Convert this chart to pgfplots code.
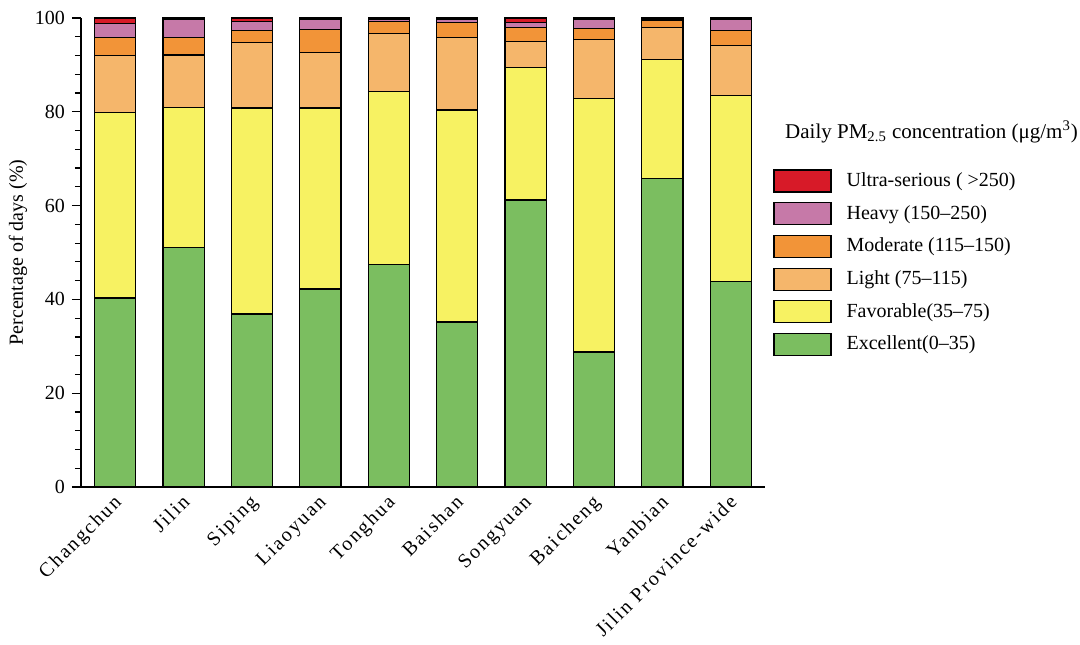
\documentclass[border=0pt]{standalone}
\usepackage{pgfplots}
\usepackage{pgfplotstable}
\pgfplotsset{compat=1.18}
\usepackage{fontspec}
\setmainfont{Liberation Serif}
\newfontfamily\spaced[LetterSpace=10]{Liberation Serif}
\definecolor{cEx}{HTML}{7BBE60}
\definecolor{cFav}{HTML}{F7F262}
\definecolor{cLight}{HTML}{F5B66B}
\definecolor{cMod}{HTML}{F29438}
\definecolor{cHeavy}{HTML}{C679A8}
\definecolor{cUltra}{HTML}{D71A28}
\pgfplotstableread{
x ex fav light mod heavy ultra
0 40.3 39.5 12.2 3.9 3.0 1.1
1 51.0 30.0 11.1 3.8 3.7 0.4
2 36.9 43.9 14.0 2.5 1.9 0.8
3 42.2 38.6 11.8 4.9 2.3 0.2
4 47.5 36.9 12.3 2.5 0.5 0.3
5 35.2 45.2 15.5 3.1 0.7 0.3
6 61.2 28.2 5.6 2.9 1.2 0.9
7 28.8 54.1 12.6 2.3 1.9 0.3
8 65.7 25.5 6.7 1.5 0.4 0.2
9 43.9 39.5 10.8 3.2 2.2 0.4
}\data
\begin{document}
\begin{tikzpicture}
\begin{axis}[
  at={(0,0)}, anchor=south west,
  scale only axis, width=342pt, height=234.5pt,
  clip=false,
  ybar stacked, bar width=0.6,
  xmin=-0.5, xmax=9.5, ymin=0, ymax=100,
  axis lines*=left,
  axis line style={line width=0.8pt},
  xtick=data,
  xticklabels={Changchun,Jilin,Siping,Liaoyuan,Tonghua,Baishan,Songyuan,Baicheng,Yanbian,Jilin Province-wide},
  x tick label style={rotate=45, anchor=north east, font=\spaced\fontsize{10}{12}\selectfont, inner sep=1pt, xshift=1pt, yshift=3pt},
  major x tick style={draw=none},
  ytick={0,20,40,60,80,100},
  minor y tick num=4,
  tick align=outside,
  major tick length=4.5pt, minor tick length=3pt,
  y tick style={line width=0.6pt, black},
  y tick label style={font=\fontsize{10}{12}\selectfont},
  /pgf/number format/assume math mode=true,
  ylabel={Percentage of days (\%)},
  ylabel style={font=\fontsize{10}{12}\selectfont, yshift=-3pt},
  every axis plot/.append style={draw=black, line width=0.6pt},
  reverse legend,
  legend image code/.code={\draw[#1] (0pt,-5.5pt) rectangle (28.5pt,5.5pt);},
  legend cell align=left,
  legend style={at={(rel axis cs:1.0117,0.678)}, anchor=north west, draw=none, fill=none,
    inner sep=0pt, row sep=4.75pt, nodes={inner sep=0pt, font=\fontsize{10}{12}\selectfont},
    /tikz/every odd column/.style={column sep=7.5pt}},
]
\addplot[fill=cEx] table[x=x,y=ex]{\data};
\addplot[fill=cFav] table[x=x,y=fav]{\data};
\addplot[fill=cLight] table[x=x,y=light]{\data};
\addplot[fill=cMod] table[x=x,y=mod]{\data};
\addplot[fill=cHeavy] table[x=x,y=heavy]{\data};
\addplot[fill=cUltra] table[x=x,y=ultra]{\data};
\legend{Excellent(0--35),Favorable(35--75),Light (75--115),Moderate (115--150),Heavy (150--250),Ultra-serious ( >250)}
\node[anchor=west, inner sep=0pt, font=\fontsize{10.5}{12}\selectfont] at (rel axis cs:1.029,0.757) {Daily PM\textsubscript{2.5} concentration (μg/m\textsuperscript{3})};
\end{axis}
\pgfresetboundingbox
\path[use as bounding box] (-40.5pt,-78.5pt) rectangle (499.5pt,243.5pt);
\end{tikzpicture}
\end{document}
